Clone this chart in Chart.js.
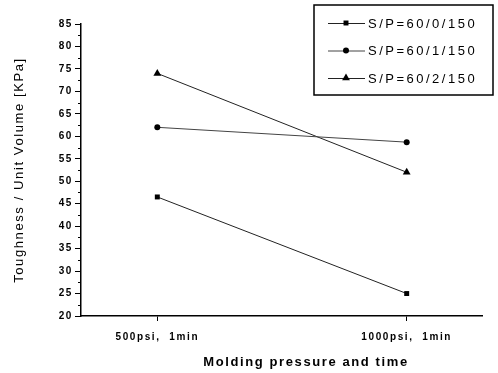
<!DOCTYPE html>
<html><head><meta charset="utf-8">
<script src="https://cdn.jsdelivr.net/npm/chart.js@4/dist/chart.umd.min.js"></script>
<style>html,body{margin:0;padding:0;background:#fff}#wrap{width:498px;height:373px}</style>
</head><body><div id="wrap"><canvas id="c" width="498" height="373"></canvas></div>
<script>
const categories = ["500psi,  1min", "1000psi,  1min"];
const seriesNames = ["S/P=60/0/150", "S/P=60/1/150", "S/P=60/2/150"];
const s0 = [46.5, 25.0];
const s1 = [62.0, 58.7];
const s2 = [74.0, 52.0];
const yTicks = [20,25,30,35,40,45,50,55,60,65,70,75,80,85];
const xTitle = 'Molding pressure and time';

const FONT = '"Liberation Sans", Arial, sans-serif';
const styles = [
  {pointStyle:'rect', radius:3.5},
  {pointStyle:'circle', radius:3},
  {pointStyle:'triangle', radius:4.5}
];
const allVals = [s0, s1, s2];
const datasets = allVals.map((vals, i) => ({
  label: seriesNames[i],
  data: vals.map((v, j) => ({x: j + 1, y: v})),
  borderColor: i === 1 ? '#444' : '#222',
  backgroundColor: '#000',
  borderWidth: 1,
  pointStyle: styles[i].pointStyle,
  pointRadius: styles[i].radius,
  pointBorderWidth: 0,
  pointBackgroundColor: '#000',
  tension: 0
}));

const extras = {
  id: 'extras',
  beforeDraw(chart) {
    chart.ctx.letterSpacing = '1.6px';
  },
  afterDraw(chart) {
    const ctx = chart.ctx;
    const ys = chart.scales.y;
    const left = chart.chartArea.left;
    ctx.save();
    ctx.strokeStyle = '#000';
    ctx.lineWidth = 1;
    for (let v = 22.5; v < 85; v += 5) {
      const p = Math.round(ys.getPixelForValue(v)) + 0.5;
      ctx.beginPath(); ctx.moveTo(left - 3, p); ctx.lineTo(left, p); ctx.stroke();
    }
    // x axis title
    ctx.fillStyle = '#000';
    ctx.font = 'bold 13px ' + FONT;
    ctx.letterSpacing = '1.6px';
    ctx.textAlign = 'center';
    ctx.textBaseline = 'middle';
    ctx.fillText(xTitle, 306, 362);
    // legend box
    const bx = 314, by = 5, bw = 179, bh = 90;
    ctx.lineWidth = 1.5;
    ctx.strokeRect(bx, by, bw, bh);
    ctx.font = '13px ' + FONT;
    ctx.letterSpacing = '2.5px';
    ctx.textAlign = 'left';
    chart.data.datasets.forEach((ds, i) => {
      const yy = by + 18 + i * 27.5;
      ctx.strokeStyle = ds.borderColor;
      ctx.lineWidth = 1;
      ctx.beginPath(); ctx.moveTo(bx + 14, yy + 0.5); ctx.lineTo(bx + 51, yy + 0.5); ctx.stroke();
      Chart.helpers.drawPoint(ctx, {pointStyle: ds.pointStyle, radius: ds.pointRadius, rotation: 0, borderWidth: 0}, bx + 32, yy);
      ctx.fillStyle = '#000';
      ctx.fillText(ds.label, bx + 54, yy + 1);
    });
    ctx.restore();
  },
  beforeDatasetsDraw(chart) {
    chart.ctx.fillStyle = '#000';
  }
};

new Chart(document.getElementById('c'), {
  type: 'line',
  data: {datasets},
  options: {
    responsive: false,
    animation: false,
    layout: {padding: {left: 0, top: 24, right: 16, bottom: 0}},
    plugins: {legend: {display: false}, tooltip: {enabled: false}},
    scales: {
      x: {
        type: 'linear',
        min: 0.694, max: 2.302,
        afterBuildTicks: s => { s.ticks = [{value: 1}, {value: 2}]; },
        afterFit: s => { s.height = 57; },
        ticks: {
          callback: v => categories[v - 1] || '',
          color: '#000',
          font: {family: FONT, size: 10, weight: 'bold'},
          padding: 10,
          maxRotation: 0
        },
        grid: {drawOnChartArea: false, tickLength: 5, color: '#000', lineWidth: 1},
        border: {color: '#000', width: 1.5},
        title: {display: false}
      },
      y: {
        min: 20, max: 85,
        afterBuildTicks: s => { s.ticks = yTicks.map(v => ({value: v})); },
        afterFit: s => { s.width = 81; },
        ticks: {
          color: '#000',
          font: {family: FONT, size: 10, weight: 'bold'},
          padding: 2
        },
        grid: {drawOnChartArea: false, tickLength: 6, color: '#000', lineWidth: 1},
        border: {color: '#000', width: 1.5},
        title: {display: true, text: 'Toughness / Unit Volume [KPa]', color: '#000',
          font: {family: FONT, size: 13}, padding: {top: 12, bottom: 0}}
      }
    }
  },
  plugins: [extras]
});
</script></body></html>
